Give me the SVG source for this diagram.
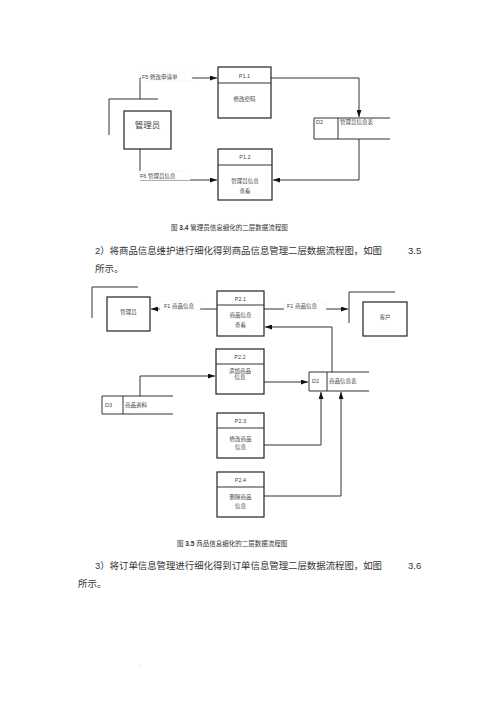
<svg xmlns="http://www.w3.org/2000/svg" width="500" height="708" viewBox="0 0 500 708">
<style>
.bx{fill:#fff;stroke:#222;stroke-width:1.2}
.ln{fill:none;stroke:#333;stroke-width:1}
.lb{fill:#fff;stroke:#eee;stroke-width:0.5}
.t{font-family:"Liberation Sans","Noto Sans CJK SC",sans-serif;fill:#444;font-size:5.5px}
.tc{font-family:"Liberation Sans","Noto Sans CJK SC",sans-serif;fill:#444;font-size:5.5px;text-anchor:middle}
.body{font-family:"Liberation Sans","Noto Sans CJK SC",sans-serif;fill:#333;font-size:9.5px}
.cap{font-family:"Liberation Sans","Noto Sans CJK SC",sans-serif;fill:#333;font-size:6.5px}
</style>
<defs>
<marker id="ah" markerWidth="7" markerHeight="5" refX="7" refY="2.5" orient="auto" markerUnits="userSpaceOnUse">
<path d="M0,0 L7,2.5 L0,5 z" fill="#111"/>
</marker>
</defs>
<rect width="500" height="708" fill="#fff"/>

<!-- Diagram 3.4 -->
<g id="connectors1">
<path class="ln" d="M140,99 V78 H217" marker-end="url(#ah)"/>
<path class="ln" d="M271,78 H359 V117" marker-end="url(#ah)"/>
<path class="ln" d="M359,139 V180 H273" marker-end="url(#ah)"/>
<path class="ln" d="M140,149 V180 H217" marker-end="url(#ah)"/>
<rect class="lb" x="141" y="72" width="51" height="9"/>
<text class="t" x="142" y="79">F5 修改申请单</text>
<rect class="lb" x="139" y="171" width="51" height="9"/>
<text class="t" x="140" y="178">F6 管理员信息</text>
</g>
<g id="ext-admin1">
<path class="ln" d="M109,135 V99 H158"/>
<rect class="bx" x="124" y="111" width="47" height="38"/>
<text class="tc" x="147.5" y="128" style="font-size:8.5px">管理员</text>
</g>
<g id="P1.1">
<rect class="bx" x="218" y="67" width="53" height="51"/>
<line class="ln" x1="218" y1="83" x2="271" y2="83"/>
<text class="tc" x="244.5" y="78">P1.1</text>
<text class="tc" x="244.5" y="101">修改密码</text>
</g>
<g id="P1.2">
<rect class="bx" x="218" y="149" width="54" height="51"/>
<line class="ln" x1="218" y1="165" x2="272" y2="165"/>
<text class="tc" x="245" y="159">P1.2</text>
<text class="tc" x="245" y="183">管理员信息</text>
<text class="tc" x="245" y="193">查看</text>
</g>
<g id="D2-1">
<path class="ln" d="M390,118 H314 V139 H390 M338,118 V139"/>
<text class="t" x="316" y="124">D2</text>
<text class="t" x="340" y="124">管理员信息表</text>
</g>

<text class="cap" x="171" y="230">图 <tspan font-weight="bold">3.4</tspan> 管理员信息细化的二层数据流程图</text>
<text class="body" x="95" y="254" textLength="287" lengthAdjust="spacingAndGlyphs">2）将商品信息维护进行细化得到商品信息管理二层数据流程图，如图</text>
<text class="body" x="408" y="254">3.5</text>
<text class="body" x="95" y="272">所示。</text>

<!-- Diagram 3.5 -->
<g id="connectors2">
<path class="ln" d="M217,309 H151" marker-end="url(#ah)"/>
<path class="ln" d="M264,309 H348" marker-end="url(#ah)"/>
<path class="ln" d="M332,372 V327 H265" marker-end="url(#ah)"/>
<path class="ln" d="M264,382 H308" marker-end="url(#ah)"/>
<path class="ln" d="M140,396 V376 H215" marker-end="url(#ah)"/>
<path class="ln" d="M264,445 H321 V392" marker-end="url(#ah)"/>
<path class="ln" d="M264,496 H341 V392" marker-end="url(#ah)"/>
<rect class="lb" x="160" y="301" width="40" height="9"/>
<text class="t" x="164" y="308">F1 商品信息</text>
<rect class="lb" x="284" y="301" width="42" height="9"/>
<text class="t" x="287" y="308">F1 商品信息</text>
</g>
<g id="ext-admin2">
<path class="ln" d="M92,318 V287 H138"/>
<rect class="bx" x="107" y="297" width="43" height="34"/>
<text class="tc" x="128.5" y="314">管理员</text>
</g>
<g id="ext-customer">
<path class="ln" d="M349,323 V292 H395"/>
<rect class="bx" x="363" y="302" width="44" height="34"/>
<text class="tc" x="385" y="319">客户</text>
</g>
<g id="P2.1">
<rect class="bx" x="217" y="291" width="47" height="45"/>
<line class="ln" x1="217" y1="305" x2="264" y2="305"/>
<text class="tc" x="240.5" y="301">P2.1</text>
<text class="tc" x="240.5" y="317">商品信息</text>
<text class="tc" x="240.5" y="327">查看</text>
</g>
<g id="P2.2">
<rect class="bx" x="216" y="349" width="48" height="45"/>
<line class="ln" x1="216" y1="364" x2="264" y2="364"/>
<text class="tc" x="240" y="359">P2.2</text>
<text class="tc" x="240" y="373">添加商品</text>
<text class="tc" x="240" y="379">信息</text>
</g>
<g id="P2.3">
<rect class="bx" x="217" y="413" width="47" height="45"/>
<line class="ln" x1="217" y1="428" x2="264" y2="428"/>
<text class="tc" x="240.5" y="423">P2.3</text>
<text class="tc" x="240.5" y="441">修改商品</text>
<text class="tc" x="240.5" y="449">信息</text>
</g>
<g id="P2.4">
<rect class="bx" x="217" y="472" width="47" height="45"/>
<line class="ln" x1="217" y1="487" x2="264" y2="487"/>
<text class="tc" x="240.5" y="482">P2.4</text>
<text class="tc" x="240.5" y="499">删除商品</text>
<text class="tc" x="240.5" y="508">信息</text>
</g>
<g id="D2-2">
<path class="ln" d="M369,372 H309 V391 H369 M327,372 V391"/>
<text class="t" x="312" y="383">D2</text>
<text class="t" x="329" y="383">商品信息表</text>
</g>
<g id="D3">
<path class="ln" d="M173,396 H102 V414 H173 M123,396 V414"/>
<text class="t" x="105" y="407">D3</text>
<text class="t" x="125" y="407">商品资料</text>
</g>

<text class="cap" x="177" y="546">图 <tspan font-weight="bold">3.5</tspan> 商品信息细化的二层数据流程图</text>
<text class="body" x="95" y="569" textLength="287" lengthAdjust="spacingAndGlyphs">3）将订单信息管理进行细化得到订单信息管理二层数据流程图，如图</text>
<text class="body" x="408" y="569">3.6</text>
<text class="body" x="78" y="587">所示。</text>
<text class="cap" x="139" y="666" style="fill:#999">.</text>
</svg>
